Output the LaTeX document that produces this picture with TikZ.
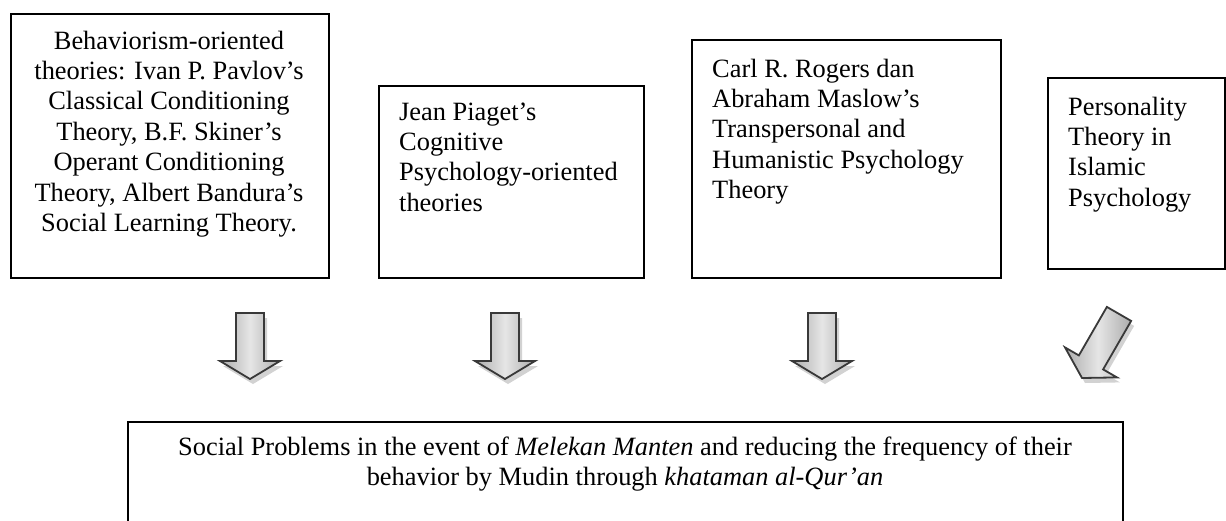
\documentclass[tikz,border=0pt]{standalone}
\usepackage{fontspec}
\setmainfont{Liberation Serif}
\newcommand{\blkarrow}[4]{%
  \begin{scope}[shift={(#1+3,#2+5)}, rotate=#3]
    \fill[arrowshadow] (0,0) -- (-30,-18) -- (-14,-18) -- (-14,-#4) -- (14,-#4) -- (14,-18) -- (30,-18) -- cycle;
  \end{scope}
  \begin{scope}[shift={(#1,#2)}, rotate=#3]
    \path[arrowfill] (0,0) -- (-30,-18) -- (-14,-18) -- (-14,-#4) -- (14,-#4) -- (14,-18) -- (30,-18) -- cycle;
  \end{scope}}
\begin{document}
\begin{tikzpicture}[x=1pt,y=-1pt,
  boxstyle/.style={draw=black, line width=2pt, inner sep=0pt, anchor=north west},
  txt/.style={inner sep=0pt, font=\fontsize{26.4}{30.4}\selectfont},
  arrowfill/.style={left color=gray!65, right color=gray!65, middle color=gray!20, draw=gray!45!black, line width=1.8pt, line join=miter},
  arrowshadow/.style={fill=gray!35, draw=none}]
\useasboundingbox (0,0) rectangle (1226,520);
\clip (0,0) rectangle (1226,520);
\fill[white] (0,0) rectangle (1226,520);

% boxes
\node[boxstyle, minimum width=318pt, minimum height=264pt] (b1) at (10,13) {};
\node[boxstyle, minimum width=265pt, minimum height=192pt] (b2) at (378,85) {};
\node[boxstyle, minimum width=309pt, minimum height=238pt] (b3) at (691,39) {};
\node[boxstyle, minimum width=177pt, minimum height=191pt] (b4) at (1047,77) {};
\node[boxstyle, minimum width=995pt, minimum height=130pt] (b5) at (127,421) {};

% texts
\node[txt, anchor=base] (t1) at (169,49) {\parbox[t]{318pt}{\centering
  Behaviorism-oriented\\ theories: Ivan P. Pavlov’s\\ Classical Conditioning\\
  Theory, B.F. Skiner’s\\ Operant Conditioning\\ Theory, Albert Bandura’s\\
  Social Learning Theory.}};
\node[txt, anchor=base west] (t2) at (399,120) {\parbox[t]{240pt}{\raggedright
  Jean Piaget’s\\ Cognitive\\ Psychology-oriented\\ theories}};
\node[txt, anchor=base west] (t3) at (712,77) {\parbox[t]{280pt}{\raggedright
  Carl R. Rogers dan\\ Abraham Maslow’s\\ Transpersonal and\\ Humanistic Psychology\\ Theory}};
\node[txt, anchor=base west] (t4) at (1068,115) {\parbox[t]{150pt}{\raggedright
  Personality\\ Theory in\\ Islamic\\ Psychology}};
\node[txt, anchor=base] (t5) at (625,455) {\parbox[t]{1000pt}{\centering
  Social Problems in the event of \textit{Melekan Manten} and reducing the frequency of their\\
  behavior by Mudin through \textit{khataman al-Qur’an}}};

% block arrows
\blkarrow{250}{379}{0}{66}
\blkarrow{505}{379}{0}{66}
\blkarrow{822}{379}{0}{66}
\blkarrow{1082}{378}{-30}{74}
\end{tikzpicture}
\end{document}
